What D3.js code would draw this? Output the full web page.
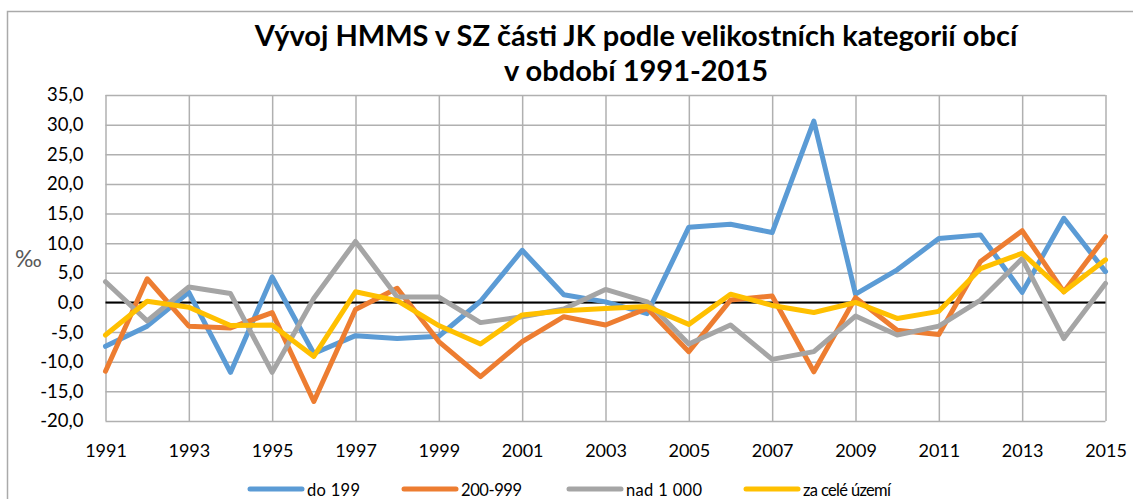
<!DOCTYPE html>
<html>
<head>
<meta charset="utf-8">
<script src="https://cdn.jsdelivr.net/npm/d3@7"></script>
<style>
  body { margin: 0; background: #fff; }
  svg { display: block; font-family: Lato, "Open Sans", sans-serif; }
</style>
</head>
<body>
<svg id="chart" width="1133" height="499"></svg>
<script>
const years = d3.range(1991, 2016);
const yearTicks = d3.range(1991, 2016, 2);
const valueTicks = d3.range(-20, 36, 5);

const do199 = [-7.4, -4.0, 1.7, -11.8, 4.3, -8.6, -5.6, -6.1, -5.7, 0.2, 8.8, 1.3, 0.1, -1.9, 12.7, 13.2, 11.8, 30.6, 1.4, 5.5, 10.8, 11.4, 1.7, 14.2, 5.2];
const s200_999 = [-11.6, 4.0, -4.0, -4.3, -1.7, -16.7, -1.2, 2.4, -6.6, -12.5, -6.6, -2.4, -3.8, -1.0, -8.3, 0.4, 1.1, -11.7, 0.8, -4.7, -5.4, 6.9, 12.1, 1.8, 11.1];
const nad1000 = [3.5, -3.1, 2.6, 1.5, -11.8, 0.7, 10.3, 0.9, 0.9, -3.4, -2.4, -1.1, 2.2, 0.1, -7.0, -3.8, -9.6, -8.3, -2.3, -5.5, -4.0, 0.4, 7.4, -6.1, 3.2];
const celeUzemi = [-5.5, 0.2, -0.8, -3.9, -3.8, -9.1, 1.8, 0.3, -3.9, -7.0, -2.1, -1.4, -1.0, -0.7, -3.7, 1.4, -0.5, -1.7, 0.0, -2.7, -1.5, 5.7, 8.3, 1.8, 7.2];

const seriesNames = ["do 199", "200-999", "nad 1 000", "za celé území"];
const seriesColors = ["#5b9bd5", "#ed7d31", "#a5a5a5", "#ffc000"];
const seriesValues = [do199, s200_999, nad1000, celeUzemi];

const svg = d3.select("#chart");
const plotLeft = 105.5, plotRight = 1105.5, plotTop = 95, plotBottom = 421;

const x = d3.scaleLinear().domain([1991, 2015]).range([plotLeft, plotRight]);
const y = d3.scaleLinear().domain([-20, 35]).range([plotBottom, plotTop]);

// chart border
svg.append("rect")
  .attr("x", 7.5).attr("y", 11.5)
  .attr("width", 1140).attr("height", 500)
  .attr("fill", "none").attr("stroke", "#aaaaaa").attr("stroke-width", 1.5);

// title
const title = svg.append("text")
  .attr("text-anchor", "middle")
  .attr("font-weight", "bold")
  .attr("font-size", 29)
  .attr("fill", "#000");
title.append("tspan").attr("x", 636).attr("y", 46).text("Vývoj HMMS v SZ části JK podle velikostních kategorií obcí");
title.append("tspan").attr("x", 636).attr("y", 81).text("v období 1991-2015");

// y axis + horizontal gridlines
const yAxis = svg.append("g")
  .attr("transform", `translate(${plotLeft},0)`)
  .call(d3.axisLeft(y)
    .tickValues(valueTicks)
    .tickSize(-(plotRight - plotLeft))
    .tickPadding(22)
    .tickFormat(d => d.toFixed(1).replace(".", ",")));
yAxis.select(".domain").remove();
yAxis.selectAll("line").attr("stroke", "#b0b0b0").attr("stroke-width", 1.5);
yAxis.selectAll("text").attr("font-size", 18.5).attr("fill", "#000").attr("font-family", "Lato, sans-serif");

// x axis + vertical gridlines
const xAxis = svg.append("g")
  .attr("transform", `translate(0,${plotBottom})`)
  .call(d3.axisBottom(x)
    .tickValues(yearTicks)
    .tickSize(-(plotBottom - plotTop))
    .tickFormat(d3.format("d")));
xAxis.select(".domain").remove();
xAxis.selectAll("line").attr("stroke", "#b0b0b0").attr("stroke-width", 1.5);
xAxis.selectAll("text")
  .attr("y", 36).attr("dy", null)
  .attr("font-size", 18).attr("fill", "#000").attr("font-family", "Lato, sans-serif");

// zero line
svg.append("line")
  .attr("x1", plotLeft).attr("x2", plotRight)
  .attr("y1", y(0)).attr("y2", y(0))
  .attr("stroke", "#000").attr("stroke-width", 2);

// unit label
svg.append("text")
  .attr("x", 15).attr("y", 267)
  .attr("font-size", 23).attr("fill", "#595959")
  .text("‰");

// series lines
const line = d3.line()
  .x((d, i) => x(years[i]))
  .y(d => y(d));

seriesValues.forEach((vals, k) => {
  svg.append("path")
    .datum(vals)
    .attr("d", line)
    .attr("fill", "none")
    .attr("stroke", seriesColors[k])
    .attr("stroke-width", 5)
    .attr("stroke-linejoin", "round")
    .attr("stroke-linecap", "round");
});

// legend
const legendX = [250, 404, 569, 746];
const legendTextW = [53, 61, 76, 88];
const legend = svg.append("g");
seriesNames.forEach((name, k) => {
  legend.append("line")
    .attr("x1", legendX[k]).attr("x2", legendX[k] + 52)
    .attr("y1", 489).attr("y2", 489)
    .attr("stroke", seriesColors[k]).attr("stroke-width", 5)
    .attr("stroke-linecap", "round");
  legend.append("text")
    .attr("x", legendX[k] + 57).attr("y", 496)
    .attr("font-size", 16.5).attr("fill", "#000")
    .attr("textLength", legendTextW[k])
    .attr("lengthAdjust", "spacing")
    .text(name);
});
</script>
</body>
</html>
